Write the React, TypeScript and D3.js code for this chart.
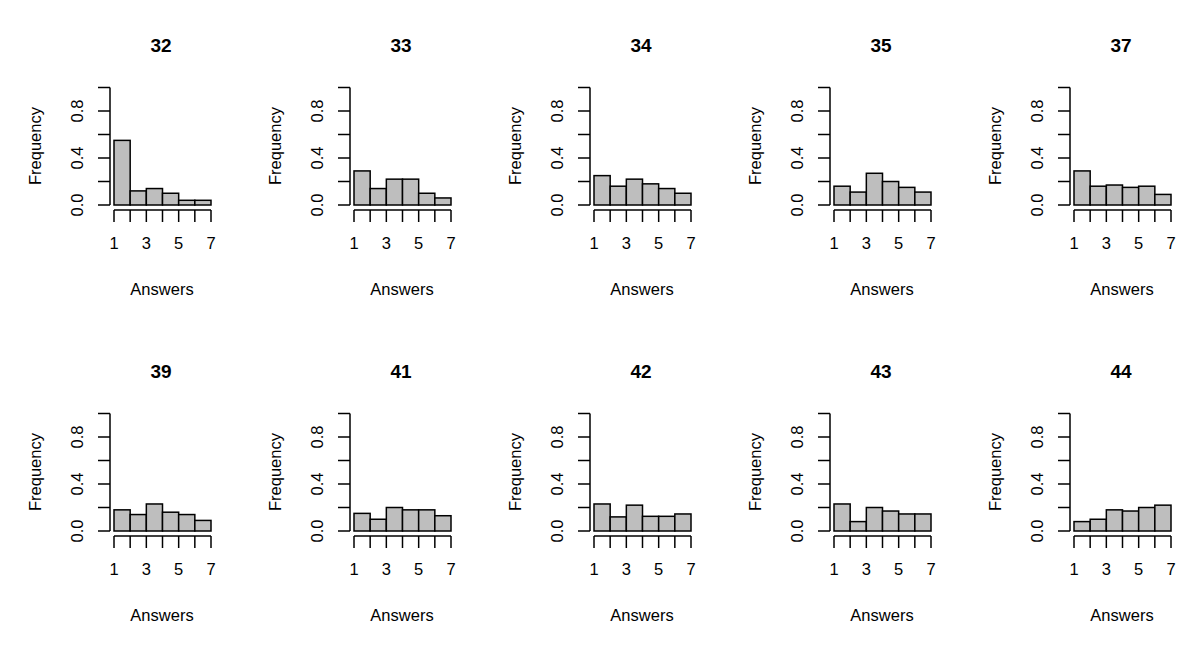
import * as d3 from 'd3';

const titles = ['32', '33', '34', '35', '37', '39', '41', '42', '43', '44'];
const freqs = [
  [0.55, 0.12, 0.14, 0.1, 0.04, 0.04],
  [0.29, 0.14, 0.22, 0.22, 0.1, 0.06],
  [0.25, 0.16, 0.22, 0.18, 0.14, 0.1],
  [0.16, 0.11, 0.27, 0.2, 0.15, 0.11],
  [0.29, 0.16, 0.17, 0.15, 0.16, 0.09],
  [0.18, 0.14, 0.23, 0.16, 0.14, 0.09],
  [0.15, 0.1, 0.2, 0.18, 0.18, 0.13],
  [0.23, 0.12, 0.22, 0.125, 0.125, 0.145],
  [0.23, 0.08, 0.2, 0.17, 0.145, 0.145],
  [0.08, 0.1, 0.18, 0.17, 0.2, 0.22],
];
const xTicks = [1, 2, 3, 4, 5, 6, 7];
const xLabels = [1, 3, 5, 7];
const yTicks = [0, 0.2, 0.4, 0.6, 0.8, 1.0];
const yLabels = [0, 0.4, 0.8];

const font = '"Liberation Sans", Arial, sans-serif';

function Panel({ title, data, ox, oy }: { title: string; data: number[]; ox: number; oy: number }) {
  const x = d3.scaleLinear().domain([1, 7]).range([ox + 114, ox + 211]);
  const y = d3.scaleLinear().domain([0, 1]).range([oy + 205, oy + 87.5]);
  const ax = ox + 110;
  const ay = oy + 210;
  return (
    <g fontFamily={font}>
      <text x={ox + 161} y={oy + 52} textAnchor="middle" fontSize={19} fontWeight="bold">{title}</text>
      {data.map((v, i) => (
        <rect key={i} x={x(i + 1)} y={y(v)} width={x(i + 2) - x(i + 1)} height={y(0) - y(v)}
          fill="#bebebe" stroke="#000" strokeWidth={1.5} />
      ))}
      <line x1={ax} x2={ax} y1={y(0)} y2={y(1)} stroke="#000" strokeWidth={1.5} />
      {yTicks.map((t) => (
        <line key={t} x1={ax - 12} x2={ax} y1={y(t)} y2={y(t)} stroke="#000" strokeWidth={1.5} />
      ))}
      {yLabels.map((t) => (
        <text key={t} transform={`translate(${ox + 83},${y(t)}) rotate(-90)`} textAnchor="middle" fontSize={16.5}>
          {t.toFixed(1)}
        </text>
      ))}
      <line x1={x(1)} x2={x(7)} y1={ay} y2={ay} stroke="#000" strokeWidth={1.5} />
      {xTicks.map((t) => (
        <line key={t} x1={x(t)} x2={x(t)} y1={ay} y2={ay + 12} stroke="#000" strokeWidth={1.5} />
      ))}
      {xLabels.map((t) => (
        <text key={t} x={x(t)} y={oy + 249} textAnchor="middle" fontSize={16.5}>{t}</text>
      ))}
      <text x={ox + 162} y={oy + 295} textAnchor="middle" fontSize={16.5}>Answers</text>
      <text transform={`translate(${ox + 41},${oy + 146}) rotate(-90)`} textAnchor="middle" fontSize={16.5}>Frequency</text>
    </g>
  );
}

export default function App() {
  return (
    <svg width={1200} height={653} style={{ position: 'absolute', left: 0, top: 0, background: '#fff' }}>
      <rect width={1200} height={653} fill="#fff" />
      {titles.map((t, i) => (
        <Panel key={t} title={t} data={freqs[i]} ox={240 * (i % 5)} oy={326 * Math.floor(i / 5)} />
      ))}
    </svg>
  );
}
